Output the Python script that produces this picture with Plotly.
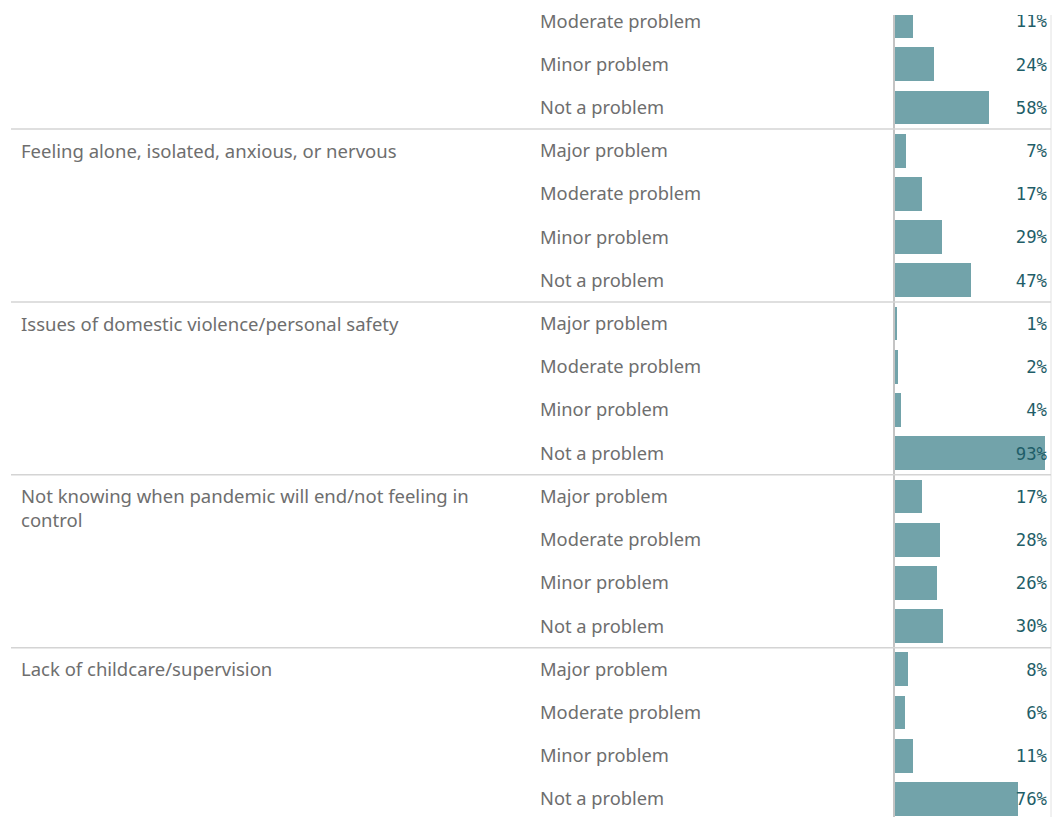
import plotly.graph_objects as go

W, H = 1061, 817

# ---- data ----
groups = [
    "",  # first group, its header lies above the visible area
    "Feeling alone, isolated, anxious, or nervous",
    "Issues of domestic violence/personal safety",
    "Not knowing when pandemic will end/not feeling in<br>control",
    "Lack of childcare/supervision",
]
responses = ["Major problem", "Moderate problem", "Minor problem", "Not a problem"]
values = [
    [None, 11, 24, 58],
    [7, 17, 29, 47],
    [1, 2, 4, 93],
    [17, 28, 26, 30],
    [8, 6, 11, 76],
]

# ---- build rows ----
ys, xs, labels, subtxt = [], [], [], []
row = 0
group_start = []
for g, vals in zip(groups, values):
    group_start.append(row)
    for r, v in zip(responses, vals):
        if v is not None:
            ys.append(row)
            xs.append(v)
            labels.append(f"{v}%")
            subtxt.append(r)
        row += 1

row_px = 43.22
first_row_center_px = 21 - row_px  # row 0 (hidden Major) center
pane_top_px = 15
y_top = (pane_top_px - first_row_center_px) / row_px
y_bot = (H - first_row_center_px) / row_px

x0_px, x1_px = 895, 1051
px_per_pct = 150 / 93
x_max = (x1_px - x0_px) / px_per_pct
label_x = (1047 - x0_px) / px_per_pct
label_dy = 2 / row_px  # small downward nudge of the value labels

bar_color = "#72a3aa"
text_color = "#1f5e68"
gray_text = "#6e6e6e"

fig = go.Figure()
fig.add_trace(go.Bar(
    x=xs, y=ys, orientation="h", marker=dict(color=bar_color, line=dict(width=0)),
    width=0.78, hoverinfo="skip",
))
fig.add_trace(go.Scatter(
    x=[label_x] * len(xs), y=[y + label_dy for y in ys], mode="text", text=labels,
    textposition="middle left",
    textfont=dict(family="DejaVu Sans Mono", size=17.3, color=text_color),
    cliponaxis=True, hoverinfo="skip",
))

annotations = []
for y, s in zip(ys, subtxt):
    annotations.append(dict(
        x=540 / W, xref="paper", y=y, yref="y", text=s, showarrow=False,
        xanchor="left", yanchor="middle", xshift=-2, yshift=1,
        font=dict(family="Noto Sans", size=18.3, color=gray_text),
    ))
for g, start in zip(groups, group_start):
    if g:
        annotations.append(dict(
            x=21 / W, xref="paper", y=start, yref="y", text=g, showarrow=False,
            xanchor="left", yanchor="top", yshift=15, align="left", xshift=-2,
            font=dict(family="Noto Sans", size=18.5, color=gray_text),
        ))

shapes = []
for start in group_start[1:]:
    shapes.append(dict(
        type="line", xref="paper", x0=11 / W, x1=1051 / W, yref="y",
        y0=start - 0.5, y1=start - 0.5, line=dict(color="#d4d4d4", width=1.5),
        layer="above",
    ))
# axis line and right border of the pane
shapes.append(dict(type="line", xref="paper", x0=894 / W, x1=894 / W,
                   yref="paper", y0=0, y1=1 - pane_top_px / H,
                   line=dict(color="#c4c4c4", width=2), layer="below"))
shapes.append(dict(type="line", xref="paper", x0=1051 / W, x1=1051 / W,
                   yref="paper", y0=0, y1=1 - pane_top_px / H,
                   line=dict(color="#e2e2e2", width=1), layer="below"))

fig.update_layout(
    width=W, height=H, margin=dict(l=0, r=0, t=0, b=0),
    paper_bgcolor="white", plot_bgcolor="white", showlegend=False,
    bargap=0,
    xaxis=dict(domain=[x0_px / W, x1_px / W], range=[0, x_max], visible=False,
               fixedrange=True),
    yaxis=dict(domain=[0, 1 - pane_top_px / H], range=[y_bot, y_top],
               visible=False, fixedrange=True),
    annotations=annotations, shapes=shapes,
)

fig.write_html("out.html", config={"displayModeBar": False},
               post_script="document.body.style.margin='0';document.body.style.overflow='hidden';")
